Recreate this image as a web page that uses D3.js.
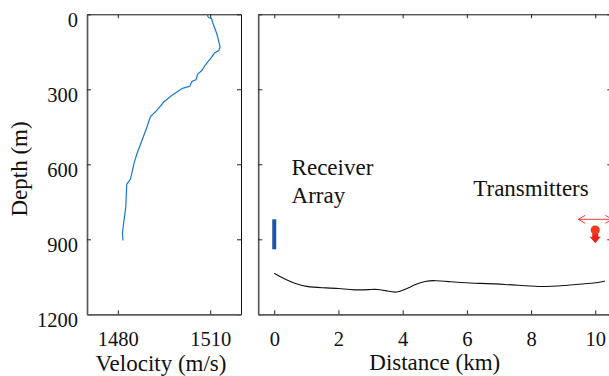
<!DOCTYPE html>
<html><head><meta charset="utf-8"><script src="https://d3js.org/d3.v7.min.js"></script></head>
<body style="margin:0">
<script>
    // ---- data ----
    // sound speed profile: depth (m) and velocity (m/s)
    var profDepth = [0, 8, 14, 16, 40, 80, 130, 145, 155, 175, 190, 205, 225, 238, 245, 262, 268, 275, 288, 296,
                     308, 328, 350, 382, 408, 420, 450, 503, 555, 590, 600, 660, 680, 770, 825, 875, 905];
    var profVel   = [1509.0, 1509.2, 1509.6, 1510.4, 1511.0, 1512.2, 1513.2, 1512.8, 1511.4, 1510.2, 1509.2, 1508.3,
                     1507.3, 1506.0, 1505.8, 1505.4, 1504.2, 1503.8, 1503.4, 1501.0, 1499.5, 1497.2, 1495.0, 1492.8,
                     1490.7, 1490.3, 1489.5, 1487.9, 1486.3, 1485.4, 1485.2, 1484.1, 1482.9, 1482.6, 1482.0, 1481.5, 1481.7];

    // bathymetry: distance (km) and depth (m)
    var bathDist  = [0, 0.3, 0.6, 1.0, 1.5, 2.0, 2.5, 3.0, 3.2, 3.5, 3.8, 4.1, 4.4, 4.7, 5.0, 5.5, 6.0, 7.2, 8.3, 9.0, 10.0, 10.3];
    var bathDepth = [1036, 1058, 1075, 1090, 1094, 1096, 1104, 1101, 1099, 1106, 1115, 1100, 1080, 1067, 1064, 1070, 1075, 1079, 1092, 1085, 1076, 1067];

    // receiver array (at 0 km) and transmitters (at 10 km)
    var receiverDist = 0, receiverTop = 820, receiverBottom = 940;
    var txDist = 10, txCircleDepth = 863, txTriDepth = 898;
    var arrowSpan = [9.47, 10.53], arrowDepth = 820;

    var velTicks = [1480, 1510];
    var depthTicks = [0, 300, 600, 900, 1200];
    var distTicks = [0, 2, 4, 6, 8, 10];

    var W = 609, H = 376;
    var FONT = "'Liberation Serif'";
    var svg = d3.select("body").append("svg").attr("width", W).attr("height", H)
      .style("font-family", FONT);

    // shared depth scale
    var y = d3.scaleLinear().domain([0, 1200]).range([14.3, 314.3]);
    var x1 = d3.scaleLinear().domain([1470, 1520]).range([87, 241]);
    var x2 = d3.scaleLinear().domain([-0.5, 10.5]).range([258.2, 611.3]);

    function styleAxis(g, strong) {
      g.attr("font-family", null).attr("font-size", null);
      g.select(".domain")
        .attr("stroke", strong ? "#5a5a5a" : "#111")
        .attr("stroke-width", strong ? 1.7 : 1);
      g.selectAll(".tick line").attr("stroke", "#222").attr("stroke-width", 1);
      g.selectAll(".tick text")
        .style("font-family", FONT)
        .style("font-size", "20.5px").attr("fill", "#111");
    }

    function drawPanel(x, ticksX, showYLabels) {
      var x0 = x.range()[0], xr = x.range()[1];
      var top = svg.append("g").attr("transform", "translate(0," + y.range()[0] + ")")
        .call(d3.axisTop(x).tickValues(ticksX).tickSize(-4).tickSizeOuter(0).tickFormat(""));
      styleAxis(top, false);
      var right = svg.append("g").attr("transform", "translate(" + xr + ",0)")
        .call(d3.axisRight(y).tickValues(depthTicks).tickSize(-4).tickSizeOuter(0).tickFormat(""));
      styleAxis(right, false);
      var left = svg.append("g").attr("transform", "translate(" + x0 + ",0)")
        .call(d3.axisLeft(y).tickValues(depthTicks).tickSize(-4).tickSizeOuter(0).tickPadding(9)
          .tickFormat(showYLabels ? d3.format("d") : ""));
      styleAxis(left, true);
      left.selectAll(".tick text").attr("dy", "0.61em");
      var bottom = svg.append("g").attr("transform", "translate(0," + y.range()[1] + ")")
        .call(d3.axisBottom(x).tickValues(ticksX).tickSize(-4).tickSizeOuter(0).tickFormat(d3.format("d")));
      styleAxis(bottom, true);
      bottom.selectAll(".tick text").attr("y", 32).attr("dy", null);
    }

    drawPanel(x1, velTicks, true);
    drawPanel(x2, distTicks, false);

    // velocity profile
    var prof = profDepth.map(function (d, i) { return { d: d, v: profVel[i] }; });
    svg.append("path")
      .attr("fill", "none")
      .attr("stroke", "#1a78c8")
      .attr("stroke-width", 1.2)
      .attr("d", d3.line().x(function (p) { return x1(p.v); }).y(function (p) { return y(p.d); })(prof));

    // bathymetry
    var bath = bathDist.map(function (k, i) { return { k: k, d: bathDepth[i] }; });
    svg.append("path")
      .attr("fill", "none")
      .attr("stroke", "#111")
      .attr("stroke-width", 1.1)
      .attr("d", d3.line().curve(d3.curveBasis).x(function (p) { return x2(p.k); }).y(function (p) { return y(p.d); })(bath));

    // receiver array
    svg.append("line")
      .attr("x1", x2(receiverDist)).attr("x2", x2(receiverDist))
      .attr("y1", y(receiverTop)).attr("y2", y(receiverBottom))
      .attr("stroke", "#1f55a8").attr("stroke-width", 4);

    // transmitter movement arrow
    var ay = y(arrowDepth), ax0 = x2(arrowSpan[0]), ax1 = x2(arrowSpan[1]);
    svg.append("path")
      .attr("fill", "none").attr("stroke", "#ee3a3a").attr("stroke-width", 1)
      .attr("d", "M" + ax0 + "," + ay + "L" + ax1 + "," + ay +
        "M" + (ax0 + 7) + "," + (ay - 4) + "L" + ax0 + "," + ay + "L" + (ax0 + 7) + "," + (ay + 4) +
        "M" + (ax1 - 7) + "," + (ay - 4) + "L" + ax1 + "," + ay + "L" + (ax1 - 7) + "," + (ay + 4));

    // transmitters
    var tx = x2(txDist), ty = y(txTriDepth);
    svg.append("path")
      .attr("fill", "#e8201c")
      .attr("d", "M" + (tx - 3) + "," + (ty - 5) + "h6v3h2.5L" + tx + "," + (ty + 4.5) + "L" + (tx - 5.5) + "," + (ty - 2) + "h2.5Z");
    svg.append("circle")
      .attr("cx", tx).attr("cy", y(txCircleDepth)).attr("r", 4.6)
      .attr("fill", "#f03a22");

    // annotations and axis titles
    function label(x, yy, txt, anchor, transform) {
      var t = svg.append("text")
        .style("font-family", FONT).style("font-size", "23px").attr("fill", "#111")
        .attr("text-anchor", anchor || "start").text(txt);
      if (transform) t.attr("transform", transform);
      else t.attr("x", x).attr("y", yy);
      return t;
    }
    label(x2(0.54), y(643), "Receiver");
    label(x2(0.54), y(755), "Array");
    label(x2(6.2), y(727), "Transmitters");
    label(161, 371, "Velocity (m/s)", "middle");
    label((x2.range()[0] + x2.range()[1]) / 2, 370, "Distance (km)", "middle");
    label(0, 0, "Depth (m)", "middle", "translate(27,169)rotate(-90)");
</script>
</body>
</html>
